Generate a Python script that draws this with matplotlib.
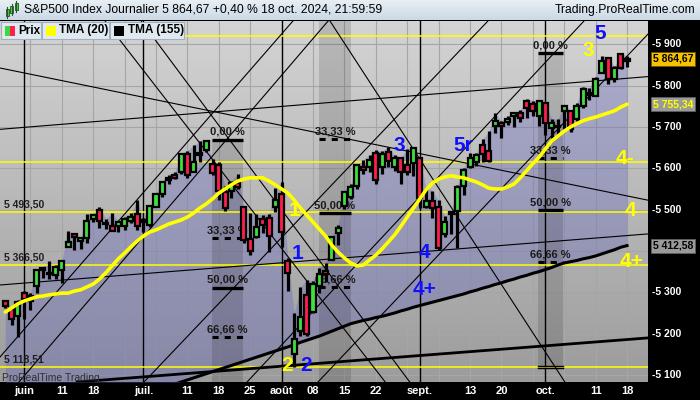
import numpy as np
import matplotlib
matplotlib.use("Agg")
import matplotlib.pyplot as plt
import matplotlib.transforms as mtransforms
from matplotlib.patches import Rectangle
from matplotlib.colors import LinearSegmentedColormap

plt.rcParams['font.family'] = ['Liberation Sans', 'DejaVu Sans']

# ---------------- data (S&P500 daily, 29 May -> 18 Oct 2024) ----------------
opens = [5278.7, 5259.8, 5243.2,
         5297.2, 5278.2, 5314.5, 5357.8, 5343.8, 5341.2, 5353.0, 5409.1, 5441.9, 5424.1,
         5431.1, 5476.2, 5500.0, 5466.8, 5459.6, 5460.7, 5460.7, 5473.6, 5488.5,
         5471.1, 5461.8, 5507.4, 5537.9, 5572.8, 5584.2, 5591.3, 5635.2, 5590.8, 5638.2,
         5644.1, 5610.1, 5608.6, 5543.4, 5544.0, 5565.3, 5505.8, 5428.7, 5433.7, 5476.6,
         5478.7, 5505.6,
         5537.8, 5376.6, 5151.1, 5206.4, 5293.1, 5252.6, 5314.2, 5351.9, 5377.0, 5442.5,
         5508.7, 5530.5, 5557.2, 5602.9, 5603.1, 5637.8, 5602.9, 5639.7, 5602.9, 5624.5,
         5607.3, 5612.7,
         5623.9, 5506.7, 5520.1, 5507.3, 5442.1, 5490.5, 5496.4, 5557.5, 5603.3, 5615.2,
         5655.5, 5641.7, 5702.6, 5709.5, 5711.9, 5727.7, 5733.2, 5762.2, 5755.4, 5726.5,
         5757.7, 5698.2, 5698.9, 5737.7, 5737.8, 5719.1, 5751.8, 5778.4, 5775.1, 5829.8,
         5866.7, 5816.6, 5875.6, 5859.4]
highs = [5282.3, 5260.2, 5280.3,
         5302.1, 5298.8, 5354.2, 5362.4, 5375.1, 5365.8, 5376.0, 5447.3, 5441.9, 5432.4,
         5488.5, 5490.4, 5505.5, 5478.3, 5490.7, 5472.9, 5483.1, 5490.8, 5523.6,
         5479.6, 5509.7, 5539.3, 5570.3, 5583.1, 5590.8, 5635.4, 5642.5, 5655.6, 5666.9,
         5669.7, 5622.5, 5614.1, 5557.5, 5570.4, 5585.3, 5508.0, 5491.6, 5488.3, 5487.7,
         5489.5, 5551.5,
         5566.2, 5383.9, 5250.9, 5312.3, 5330.6, 5328.0, 5358.9, 5371.2, 5436.5, 5463.2,
         5546.3, 5562.0, 5608.3, 5620.5, 5632.7, 5643.2, 5641.8, 5651.6, 5631.2, 5627.0,
         5647.0, 5651.4,
         5623.9, 5553.0, 5546.3, 5522.5, 5484.2, 5497.9, 5560.4, 5600.7, 5636.3, 5636.1,
         5670.8, 5689.8, 5733.6, 5715.1, 5725.4, 5735.3, 5741.0, 5767.4, 5763.8, 5765.1,
         5757.7, 5719.1, 5718.8, 5753.6, 5739.3, 5757.6, 5796.8, 5795.0, 5822.1, 5871.4,
         5870.4, 5846.5, 5878.5, 5872.2]
lows = [5262.7, 5222.1, 5191.7,
        5234.3, 5257.6, 5297.6, 5335.4, 5331.3, 5331.5, 5322.6, 5409.1, 5402.5, 5403.8,
        5420.4, 5471.3, 5455.6, 5452.0, 5447.6, 5446.6, 5451.9, 5467.5, 5451.1,
        5446.5, 5458.4, 5507.4, 5531.6, 5562.5, 5574.6, 5586.4, 5576.5, 5590.4, 5614.8,
        5639.0, 5584.8, 5522.8, 5497.0, 5529.0, 5550.9, 5420.0, 5391.0, 5430.7, 5444.4,
        5398.6, 5493.8,
        5410.4, 5302.0, 5119.3, 5193.6, 5195.5, 5249.9, 5297.9, 5324.4, 5377.0, 5415.2,
        5502.5, 5525.3, 5550.7, 5585.5, 5591.6, 5561.0, 5585.2, 5602.3, 5593.5, 5561.0,
        5583.7, 5581.8,
        5504.3, 5503.7, 5480.5, 5402.6, 5434.5, 5441.7, 5407.0, 5535.5, 5601.7, 5604.5,
        5614.1, 5615.1, 5686.4, 5674.5, 5704.9, 5699.0, 5712.1, 5721.0, 5727.3, 5703.5,
        5681.3, 5674.0, 5677.1, 5696.1, 5686.9, 5714.6, 5745.0, 5764.8, 5775.1, 5829.8,
        5804.5, 5808.3, 5840.3, 5846.1]
closes = [5267.0, 5235.5, 5277.5,
          5283.4, 5291.3, 5354.0, 5353.0, 5347.0, 5360.8, 5375.3, 5421.0, 5433.7, 5431.6,
          5473.2, 5487.0, 5473.2, 5464.6, 5447.9, 5469.3, 5477.9, 5482.9, 5460.5,
          5475.1, 5509.0, 5537.0, 5567.2, 5572.9, 5577.0, 5633.9, 5584.5, 5615.4, 5631.2,
          5667.2, 5588.3, 5544.6, 5505.0, 5564.4, 5555.7, 5427.1, 5399.2, 5459.1, 5463.5,
          5436.4, 5522.3,
          5446.7, 5346.6, 5186.3, 5240.0, 5199.5, 5319.3, 5344.2, 5344.4, 5434.4, 5455.2,
          5543.2, 5554.3, 5608.3, 5597.1, 5620.9, 5570.6, 5634.6, 5616.8, 5625.8, 5592.2,
          5592.0, 5648.4,
          5528.9, 5520.1, 5503.4, 5408.4, 5471.1, 5495.5, 5554.1, 5595.8, 5626.0, 5633.1,
          5634.6, 5618.3, 5713.6, 5702.6, 5718.6, 5732.9, 5722.3, 5745.4, 5738.2, 5762.5,
          5708.8, 5709.5, 5699.9, 5751.1, 5695.9, 5751.1, 5792.0, 5780.1, 5815.0, 5859.9,
          5815.3, 5842.5, 5841.5, 5864.7]

tma20 = [5252, 5262, 5272, 5279, 5284, 5289, 5291, 5294, 5296, 5298,
         5298, 5303, 5306, 5313, 5320, 5332, 5347, 5364, 5381, 5395,
         5410, 5424, 5436, 5446, 5451, 5458, 5465, 5470, 5475, 5482,
         5492, 5504, 5514, 5526, 5540, 5550, 5560, 5569, 5574, 5577,
         5577, 5577, 5569, 5560, 5550, 5540, 5523, 5504, 5487, 5470,
         5453, 5436, 5414, 5397, 5383, 5371, 5364, 5366, 5378, 5390,
         5405, 5422, 5439, 5460, 5482, 5504, 5526, 5548, 5564, 5574,
         5579, 5582, 5579, 5577, 5572, 5567, 5560, 5552, 5550, 5550,
         5555, 5562, 5577, 5594, 5611, 5627, 5647, 5666, 5678, 5690,
         5700, 5708, 5715, 5720, 5724, 5729, 5734, 5739, 5748, 5755]

tma155_first = 26
tma155 = [5073, 5078, 5083, 5088, 5093, 5098, 5103, 5108, 5113, 5118,
          5123, 5128, 5133, 5138, 5143, 5148, 5153, 5158, 5163, 5168,
          5173, 5179, 5184, 5189, 5194, 5200, 5206, 5212, 5218, 5224,
          5228, 5232, 5235, 5239, 5242, 5246, 5250, 5255, 5259, 5264,
          5268, 5272, 5276, 5280, 5284, 5288, 5292, 5296, 5301, 5305,
          5310, 5314, 5319, 5323, 5328, 5332, 5337, 5341, 5346, 5350,
          5355, 5360, 5366, 5371, 5374, 5377, 5381, 5384, 5388, 5393,
          5398, 5403, 5409, 5413]

tick_idx = [3, 9, 14, 22, 29, 34, 39, 44, 49, 54, 59, 66, 74, 79, 86, 94, 99]
tick_labels = ['juin', '11', '18', 'juil.', '11', '18', '25', 'août', '08', '15', '22',
               'sept.', '13', '20', 'oct.', '11', '18']
month_idx = [3, 22, 44, 66, 86]

level_prices = [5920.0, 5616.0, 5493.5, 5366.5, 5118.51]
level_labels = {5493.5: '5 493,50', 5366.5: '5 366,50', 5118.51: '5 118,51'}

# trend lines: two anchor points (trading-day index, price)
thin_lines = [((-0.84, 5842.7), (102.2, 5523.3)),
              ((-0.84, 5694.3), (102.2, 5821.7)),
              ((-0.84, 5317.7), (102.2, 5441.1)),
              ((17.0, 5934.6), (60.5, 5083.0)),
              ((22.7, 5934.6), (64.4, 5083.0)),
              ((51.7, 5956.4), (89.1, 5083.0)),
              ((-0.84, 5143.5), (45.8, 5956.4)),
              ((2.18, 5083.0), (51.4, 5956.4)),
              ((22.09, 5083.0), (76.7, 5954.0)),
              ((38.5, 5083.0), (92.0, 5954.0)),
              ((50.1, 5087.9), (102.2, 5922.5))]
thick_lines = [((13.5, 5085.4), (102.2, 5189.5))]

# Fibonacci retracements: index span, 0% price, 100% price
fib_spans = [(32.9, 37.85), (49.9, 55.05), (84.8, 88.8)]
fib_top = [5669.67, 6030.0, 5878.46]
fib_bot = [4953.56, 4953.56, 5119.26]
fib_pcts = [0.0, 33.33, 50.0, 66.66]
fib_texts = ['0,00 %', '33,33 %', '50,00 %', '66,66 %']

wave_idx = [46.6, 47.9, 44.9, 46.1, 62.8, 66.8, 66.8, 72.9, 94.7, 92.8, 98.7, 99.5, 99.7]
wave_price = [5395, 5122, 5122, 5499, 5656, 5396, 5306, 5656, 5925, 5886, 5624, 5499, 5374]
wave_text = ['1', '2', '2', '1', '3', '4', '4+', '5r', '5', '3', '4-', '4', '4+']
wave_color = ['blue', 'blue', 'yellow', 'yellow', 'blue', 'blue', 'blue', 'blue', 'blue',
              'yellow', 'yellow', 'yellow', 'yellow']

last_price, tma20_last, tma155_last = 5864.67, 5755.34, 5412.58
yticks = [5100, 5200, 5300, 5500, 5600, 5700, 5800, 5900]

# ---------------- figure ----------------
W, H = 700, 400
fig = plt.figure(figsize=(7, 4), dpi=100)
fig.patch.set_facecolor('black')
PL, PR, PT, PB = 0, 648, 21, 382
ax = fig.add_axes([PL / W, 1 - PB / H, (PR - PL) / W, (PB - PT) / H])
XMIN, XMAX = -0.84, 102.34
YMIN, YMAX = 5083.0, 5956.4
ax.set_axis_off()
ax.set_xlim(XMIN, XMAX)
ax.set_ylim(YMIN, YMAX)

cm = LinearSegmentedColormap.from_list('bg', ['#d4d4d4', '#9c9c9c'])
ax.imshow(np.linspace(0, 1, 256).reshape(-1, 1), cmap=cm, aspect='auto',
          extent=[XMIN, XMAX, YMIN, YMAX], origin='upper', zorder=0)

n = len(closes)
idx = np.arange(n)
for g in range(4, 101, 5):
    ax.axvline(g, color='#a6a6a6', lw=0.8, zorder=1)
for p in range(5100, 5951, 100):
    ax.axhline(p, color='#a6a6a6', lw=0.8, zorder=1)

lower = np.full(n, YMIN - 100.0)
lower[tma155_first:] = tma155
ax.fill_between(idx, lower, highs, color='#5a5ac0', alpha=0.31, lw=0, zorder=2)

# fib bands
for (x0, x1), t, b in zip(fib_spans, fib_top, fib_bot):
    ax.add_patch(Rectangle((x0, b), x1 - x0, t - b, color='black', alpha=0.13, lw=0, zorder=2))

for m in month_idx:
    ax.axvline(m, color='black', lw=1.0, zorder=3)

for p in level_prices:
    ax.axhline(p, color='#ffff00', lw=1.1, zorder=3)

for p, lab in level_labels.items():
    ax.annotate(lab, (XMIN, p), xytext=(3, 2), textcoords='offset points',
                fontsize=7.5, fontweight='bold', color='#202020', va='bottom', ha='left', zorder=6)

for a, b in thin_lines:
    ax.axline(a, b, color='black', lw=0.8, zorder=3)
for a, b in thick_lines:
    ax.axline(a, b, color='black', lw=2.0, zorder=3)

# fib level bars and labels
for (x0, x1), t, b in zip(fib_spans, fib_top, fib_bot):
    rng = t - b
    xc = (x0 + x1) / 2
    for pct, txt in zip(fib_pcts, fib_texts):
        lvl = t - rng * pct / 100.0
        if not (YMIN < lvl < YMAX):
            continue
        if pct in (0.0, 50.0):
            ax.plot([x0, x1], [lvl, lvl], color='black', lw=2.4, zorder=5, solid_capstyle='butt')
        else:
            ax.plot([x0, x1], [lvl, lvl], color='black', lw=2.2, zorder=5, linestyle=(0, (2, 2)))
        ax.annotate(txt, (xc, lvl), xytext=(0, 2), textcoords='offset points', ha='center',
                    va='bottom', fontsize=8, fontweight='bold', color='#1a1a1a', zorder=6)
    if YMIN < b < YMAX:
        for d in (-1.8, 1.8):
            ax.plot([x0, x1], [b + d, b + d], color='black', lw=1.0, zorder=5)

ax.plot(idx[tma155_first:], tma155, color='black', lw=2.2, zorder=4)

# candles
for i in range(n):
    o, h, l, c = opens[i], highs[i], lows[i], closes[i]
    ax.plot([i, i], [l, h], color='black', lw=2.3, zorder=6, solid_capstyle='butt')
    col = '#3ee03e' if c >= o else '#ff1f4f'
    lo_b, hi_b = min(o, c), max(o, c)
    if hi_b - lo_b < 4:
        hi_b = lo_b + 4
    ax.add_patch(Rectangle((i - 0.4, lo_b), 0.8, hi_b - lo_b, facecolor=col,
                           edgecolor='black', lw=1.6, zorder=7))

ax.plot(idx, tma20, color='#ffff00', lw=2.6, zorder=8, solid_capstyle='round')

for xi, pr, tx, co in zip(wave_idx, wave_price, wave_text, wave_color):
    ax.text(xi, pr, tx, color='#1010ff' if co == 'blue' else '#ffff00', fontsize=15,
            fontweight='bold', ha='center', va='center', zorder=9)

ax.text(XMIN + 0.3, 5092, 'ProRealTime Trading', fontsize=7.5, color='#303030',
        ha='left', va='center', zorder=9)

# right axis
tr = mtransforms.blended_transform_factory(ax.transAxes, ax.transData)
for p in yticks:
    ax.text(1.006, p, '-' + f'{p:,}'.replace(',', ' '), transform=tr, color='white',
            fontsize=7.5, fontweight='bold', ha='left', va='center', clip_on=False)
ax.text(1.007, last_price, '5 864,67', transform=tr, color='black', fontsize=7.5,
        fontweight='bold', ha='left', va='center', clip_on=False,
        bbox=dict(facecolor='#f5c200', edgecolor='#705000', pad=1.4, lw=0.6), zorder=10)
ax.text(1.007, tma20_last, '5 755,34', transform=tr, color='#ffff00', fontsize=7.5,
        fontweight='bold', ha='left', va='center', clip_on=False,
        bbox=dict(facecolor='#9a9a9a', edgecolor='#606060', pad=1.4, lw=0.6), zorder=10)
ax.text(1.007, tma155_last, '5 412,58', transform=tr, color='black', fontsize=7.5,
        fontweight='bold', ha='left', va='center', clip_on=False,
        bbox=dict(facecolor='#9a9a9a', edgecolor='#606060', pad=1.4, lw=0.6), zorder=10)

# date labels
trd = mtransforms.blended_transform_factory(ax.transData, fig.transFigure)
for ti, tl in zip(tick_idx, tick_labels):
    ax.text(ti, 1 - 391 / H, tl, transform=trd, color='white', fontsize=8, fontweight='bold',
            ha='center', va='center', clip_on=False)

# title bar
axt = fig.add_axes([0, 1 - 20 / H, 1, 20 / H])
axt.set_axis_off()
cmt = LinearSegmentedColormap.from_list('tb', ['#e8eff5', '#cbd9e6'])
axt.imshow(np.linspace(0, 1, 64).reshape(-1, 1), cmap=cmt, aspect='auto',
           extent=[0, 1, 0, 1], origin='upper')
axt.set_xlim(0, 1); axt.set_ylim(0, 1)
axt.text(24 / W, 0.5, 'S&P500 Index Journalier 5 864,67 +0,40 % 18 oct. 2024, 21:59:59',
         fontsize=8.7, color='black', va='center', ha='left')
axt.text(695 / W, 0.5, 'Trading.ProRealTime.com', fontsize=8.7, color='black',
         va='center', ha='right')

# overlay (legend, icon)
ov = fig.add_axes([0, 0, 1, 1])
ov.set_axis_off()
ov.set_xlim(0, W); ov.set_ylim(H, 0)
for (x0, x1, label, sq) in [(1, 40.5, 'Prix', 'pr'), (41.8, 109, 'TMA (20)', '#ffff00'),
                            (110.2, 184, 'TMA (155)', 'black')]:
    ov.add_patch(Rectangle((x0, 21.5), x1 - x0, 17.5, facecolor='#e1e9f0', edgecolor='#9fb0c2', lw=0.8))
    if sq == 'pr':
        ov.add_patch(Rectangle((5, 25.5), 5, 10, facecolor='#3ed83e', lw=0))
        ov.add_patch(Rectangle((10, 25.5), 5, 10, facecolor='#ff2050', lw=0))
    else:
        ov.add_patch(Rectangle((x0 + 4, 25.5), 10, 10, facecolor=sq, lw=0))
    ov.text(x0 + 17.5, 30.5, label, fontsize=8.5, fontweight='bold', va='center', ha='left')
# small candlestick icon
for (cx, y0, y1, col) in [(7, 9, 16, '#3ed83e'), (11.5, 6, 13, '#3ed83e'), (16, 3, 10, '#3ed83e')]:
    ov.plot([cx, cx], [y0 - 2, y1 + 2], color='#305030', lw=0.8)
    ov.add_patch(Rectangle((cx - 1.5, y0), 3, y1 - y0, facecolor=col, edgecolor='#205020', lw=0.6))

fig.savefig('out.png', dpi=100, facecolor=fig.get_facecolor())
